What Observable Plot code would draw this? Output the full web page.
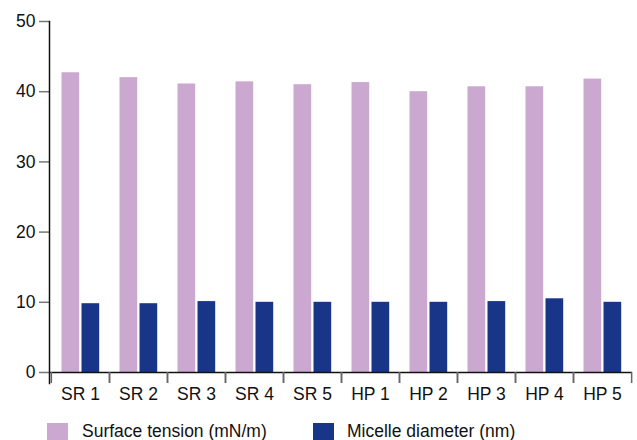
<!DOCTYPE html>
<html>
<head>
<meta charset="utf-8">
<script src="https://cdn.jsdelivr.net/npm/d3@7"></script>
<script src="https://cdn.jsdelivr.net/npm/@observablehq/plot@0.6"></script>
<style>
  body { margin: 0; background: #fff; font-family: "Liberation Sans", Arial, sans-serif; }
  #chart { width: 637px; }
  .legend { position: relative; height: 24px; font-size: 17.5px; color: #111; }
  .legend .sw { position: absolute; top: 7px; width: 21px; height: 19px; }
  .legend .lb { position: absolute; top: 4px; line-height: 22px; white-space: nowrap; }
</style>
</head>
<body>
<div id="chart"></div>
<script>
const categories = ["SR 1", "SR 2", "SR 3", "SR 4", "SR 5", "HP 1", "HP 2", "HP 3", "HP 4", "HP 5"];
const seriesNames = ["Surface tension (mN/m)", "Micelle diameter (nm)"];
const surfaceTension = [42.7, 42.0, 41.1, 41.4, 41.0, 41.3, 40.0, 40.7, 40.7, 41.8];
const micelleDiameter = [9.8, 9.8, 10.1, 10.0, 10.0, 10.0, 10.0, 10.1, 10.5, 10.0];
const yTicks = [0, 10, 20, 30, 40, 50];
const colors = ["#cba8cf", "#183587"];

const tension = categories.map((c, i) => ({category: c, value: surfaceTension[i]}));
const diameter = categories.map((c, i) => ({category: c, value: micelleDiameter[i]}));

const W = 637, H = 416, mL = 49, mR = 5;
const step = (W - mL - mR) / categories.length;

const chart = Plot.plot({
  width: W,
  height: H,
  marginLeft: mL,
  marginRight: mR,
  marginTop: 21,
  marginBottom: 44,
  style: {fontFamily: "'Liberation Sans', Arial, sans-serif", fontSize: "17.5px", color: "#111", background: "#fff"},
  x: {domain: categories, padding: 0, axis: null, label: null},
  y: {domain: [0, 50], axis: null, label: null},
  marks: [
    Plot.barY(tension, {x: "category", y: "value", fill: colors[0], insetLeft: 10.5, insetRight: step - 28.5}),
    Plot.barY(diameter, {x: "category", y: "value", fill: colors[1], insetLeft: 30.5, insetRight: step - 48.5}),
    Plot.axisY({ticks: yTicks, label: null, tickSize: 10, tickPadding: 4, stroke: "#777", strokeWidth: 1.5, fontSize: 17.5, fill: "#111"}),
    Plot.frame({anchor: "left", stroke: "#111", strokeWidth: 1.5, insetBottom: -11}),
    Plot.ruleY([0], {stroke: "#111", strokeWidth: 1.5}),
    Plot.axisX({ticks: categories, label: null, tickSize: 0, tickPadding: 15, fontSize: 17.5, fill: "#111"}),
    Plot.axisX({ticks: categories, label: null, tickSize: 11, text: null, dx: -step / 2, stroke: "#666", strokeWidth: 1.5}),
    Plot.axisX({ticks: categories, label: null, tickSize: 11, text: null, dx: step / 2, stroke: "#666", strokeWidth: 1.5})
  ]
});
document.getElementById("chart").appendChild(chart);

const legend = document.createElement("div");
legend.className = "legend";
const positions = [[47, 82], [313, 347]];
seriesNames.forEach((name, i) => {
  const sw = document.createElement("div");
  sw.className = "sw";
  sw.style.left = positions[i][0] + "px";
  sw.style.background = colors[i];
  const lb = document.createElement("div");
  lb.className = "lb";
  lb.style.left = positions[i][1] + "px";
  lb.textContent = name;
  legend.appendChild(sw);
  legend.appendChild(lb);
});
document.getElementById("chart").appendChild(legend);
</script>
</body>
</html>
